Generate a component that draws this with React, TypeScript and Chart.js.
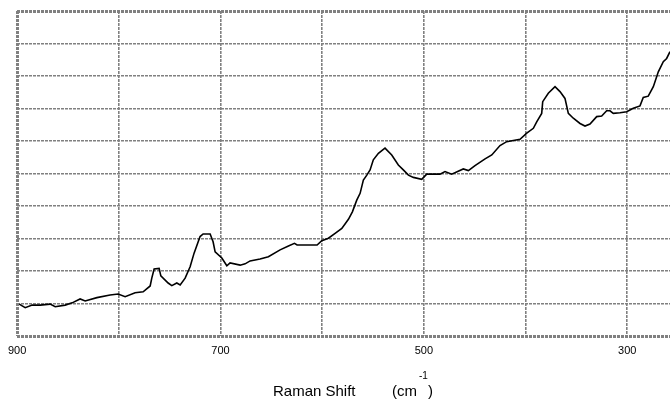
import React, { useEffect, useRef } from "react";
import { Chart, registerables } from "chart.js";

Chart.register(...registerables);

// Raman shift (cm-1) positions
const ramanShift: number[] = [
  898.0, 892.1, 885.3, 877.4, 867.6, 862.6, 852.8, 845.9, 838.1, 833.1,
  821.6, 808.6, 800.7, 793.8, 784.0, 776.1, 769.2, 767.6, 765.3, 760.4,
  758.7, 751.5, 747.9, 743.0, 739.7, 734.8, 729.9, 726.0, 720.1, 717.1,
  710.2, 707.3, 705.3, 698.7, 693.8, 690.6, 680.7, 675.8, 670.9, 661.1,
  652.9, 641.4, 633.2, 627.3, 624.7, 611.9, 605.0, 600.4, 593.9, 587.3,
  580.7, 574.2, 570.3, 566.0, 562.7, 559.5, 556.1, 552.9, 549.7, 544.7,
  539.8, 538.2, 531.6, 525.1, 520.2, 515.2, 510.3, 502.1, 497.2, 484.1,
  479.2, 472.6, 461.2, 456.2, 449.7, 439.8, 433.2, 425.1, 418.5, 405.4,
  398.8, 392.3, 389.0, 384.1, 383.1, 377.6, 371.0, 366.1, 361.2, 357.9,
  353.0, 346.4, 341.5, 336.6, 330.0, 325.1, 320.2, 316.9, 313.7, 307.1,
  300.5, 294.0, 287.4, 284.2, 279.3, 274.3, 269.4, 264.5, 261.2, 257.9,
];

// Intensity (arbitrary units, 0-10 grid divisions)
const intensity: number[] = [
  0.98, 0.87, 0.95, 0.95, 0.98, 0.9, 0.95, 1.02, 1.14, 1.08,
  1.18, 1.26, 1.29, 1.21, 1.33, 1.36, 1.54, 1.78, 2.06, 2.08,
  1.85, 1.63, 1.55, 1.63, 1.57, 1.78, 2.13, 2.55, 3.06, 3.14,
  3.14, 2.9, 2.59, 2.4, 2.16, 2.25, 2.18, 2.22, 2.31, 2.37,
  2.44, 2.65, 2.77, 2.85, 2.8, 2.8, 2.8, 2.93, 3.01, 3.16,
  3.31, 3.59, 3.82, 4.18, 4.39, 4.8, 4.95, 5.11, 5.42, 5.62,
  5.74, 5.78, 5.57, 5.26, 5.11, 4.95, 4.88, 4.82, 4.98, 4.98,
  5.06, 4.98, 5.14, 5.09, 5.24, 5.45, 5.57, 5.86, 5.98, 6.05,
  6.24, 6.39, 6.59, 6.85, 7.21, 7.47, 7.67, 7.52, 7.31, 6.85,
  6.7, 6.54, 6.46, 6.52, 6.75, 6.77, 6.93, 6.93, 6.85, 6.87,
  6.9, 7.01, 7.08, 7.34, 7.38, 7.67, 8.13, 8.44, 8.54, 8.75,
];

const xGridValues: number[] = [900, 800, 700, 600, 500, 400, 300];
const xLabelValues: number[] = [900, 700, 500, 300];
const xMin = 257.9;
const xMax = 900;
const yMin = 0;
const yMax = 10;

const GRID = "#808080";
const FONT = "'Liberation Sans', Arial, sans-serif";

export default function App() {
  const ref = useRef<HTMLCanvasElement | null>(null);

  useEffect(() => {
    if (!ref.current) return;
    const titlePlugin = {
      id: "ramanTitle",
      afterDraw(chart: any) {
        const ctx = chart.ctx;
        ctx.save();
        ctx.fillStyle = "#000";
        ctx.textBaseline = "alphabetic";
        ctx.textAlign = "left";
        ctx.font = `15px ${FONT}`;
        ctx.fillText("Raman Shift", 273, 396);
        ctx.fillText("(cm", 392, 396);
        const w = ctx.measureText("(cm").width;
        ctx.font = `10px ${FONT}`;
        ctx.fillText("-1", 392 + w + 2, 379);
        const w2 = ctx.measureText("-1").width;
        ctx.font = `15px ${FONT}`;
        ctx.fillText(")", 392 + w + 2 + w2, 396);
        ctx.restore();
      },
    };

    const chart = new Chart(ref.current, {
      type: "line",
      data: {
        datasets: [
          {
            data: ramanShift.map((x, i) => ({ x, y: intensity[i] })),
            borderColor: "#000",
            borderWidth: 1.6,
            pointRadius: 0,
            tension: 0,
            fill: false,
          },
        ],
      },
      options: {
        responsive: false,
        animation: false,
        layout: { padding: { left: 17, top: 11, right: 0, bottom: 0 } },
        plugins: {
          legend: { display: false },
          tooltip: { enabled: false },
          title: { display: false },
        },
        scales: {
          x: {
            type: "linear",
            reverse: true,
            min: xMin,
            max: xMax,
            afterBuildTicks: (axis: any) => {
              axis.ticks = xGridValues.map((v) => ({ value: v }));
            },
            afterFit: (scale: any) => {
              scale.height = 64;
            },
            border: { display: false, dash: [3, 1] },
            grid: {
              color: GRID,
              lineWidth: (c: any) => (c.tick && c.tick.value === 900 ? 3 : 1.6),
              drawTicks: false,
            },
            ticks: {
              padding: 8,
              color: "#000",
              font: { family: FONT, size: 11 },
              maxRotation: 0,
              autoSkip: false,
              callback: (v: any) => (xLabelValues.includes(Number(v)) ? String(v) : ""),
            },
          },
          y: {
            type: "linear",
            min: yMin,
            max: yMax,
            afterFit: (scale: any) => {
              scale.width = 0;
            },
            border: { display: false, dash: [3, 1] },
            grid: {
              color: GRID,
              lineWidth: (c: any) =>
                c.tick && (c.tick.value === 0 || c.tick.value === 10) ? 3 : 1.6,
              drawTicks: false,
            },
            ticks: { display: false, stepSize: 1 },
          },
        },
      },
      plugins: [titlePlugin],
    } as any);

    return () => chart.destroy();
  }, []);

  return (
    <div style={{ position: "absolute", left: 0, top: 0, width: 670, height: 400, background: "#fff" }}>
      <canvas ref={ref} width={670} height={400} style={{ display: "block" }} />
    </div>
  );
}
